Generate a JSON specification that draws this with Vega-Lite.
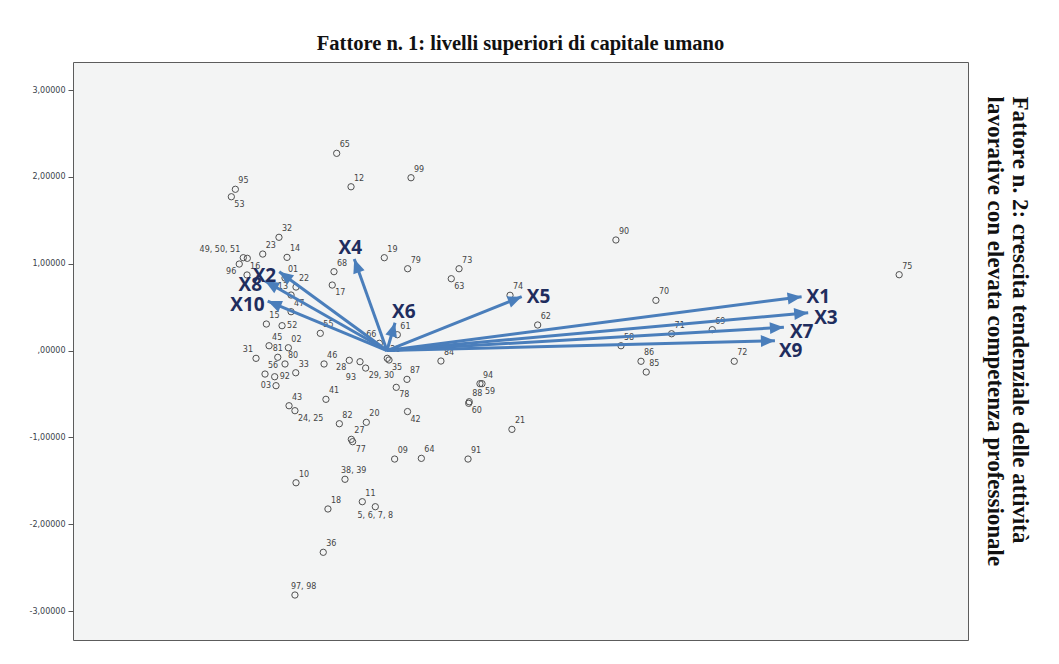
{
  "$schema": "https://vega.github.io/schema/vega-lite/v6.json",
  "width": 895,
  "height": 578,
  "autosize": {"type": "none"},
  "padding": {"left": 73, "top": 62, "right": 91, "bottom": 24},
  "background": "white",
  "title": {"text": "Fattore n. 1: livelli superiori di capitale umano", "font": "Liberation Serif", "fontSize": 20.5, "fontWeight": "bold", "color": "#111111", "offset": 8, "anchor": "middle"},
  "config": {
    "view": {"fill": "#f3f4f4", "stroke": "#5c5c5c", "strokeWidth": 1},
    "axis": {"labelFont": "DejaVu Sans", "labelFontSize": 8, "labelColor": "#3a3f4a", "tickColor": "#555555", "tickSize": 5, "domain": false, "grid": false, "labelPadding": 3}
  },
  "resolve": {"axis": {"y": "independent"}},
  "datasets": {
    "pts": [
      {"x": -0.375, "y": 2.271, "label": "65"},
      {"x": -0.268, "y": 1.886, "label": "12"},
      {"x": 0.179, "y": 1.990, "label": "99"},
      {"x": -1.130, "y": 1.857, "label": "95"},
      {"x": -1.160, "y": 1.771, "label": "53"},
      {"x": -0.805, "y": 1.304, "label": "32"},
      {"x": -0.926, "y": 1.111, "label": "23"},
      {"x": -1.071, "y": 1.069, "label": "49, 50, 51"},
      {"x": -1.041, "y": 1.062, "label": "-"},
      {"x": -1.101, "y": 0.996, "label": "96"},
      {"x": -0.745, "y": 1.073, "label": "14"},
      {"x": -1.043, "y": 0.870, "label": "16"},
      {"x": -0.760, "y": 0.835, "label": "01"},
      {"x": -0.678, "y": 0.731, "label": "22"},
      {"x": -0.715, "y": 0.639, "label": "13"},
      {"x": -0.715, "y": 0.447, "label": "47"},
      {"x": -0.408, "y": 0.754, "label": "17"},
      {"x": -0.395, "y": 0.908, "label": "68"},
      {"x": -0.020, "y": 1.069, "label": "19"},
      {"x": 0.154, "y": 0.942, "label": "79"},
      {"x": 0.537, "y": 0.942, "label": "73"},
      {"x": 0.479, "y": 0.827, "label": "63"},
      {"x": 0.917, "y": 0.636, "label": "74"},
      {"x": 1.123, "y": 0.294, "label": "62"},
      {"x": 0.077, "y": 0.182, "label": "61"},
      {"x": -0.899, "y": 0.305, "label": "15"},
      {"x": -0.782, "y": 0.286, "label": "52"},
      {"x": -0.497, "y": 0.198, "label": "55"},
      {"x": -0.879, "y": 0.055, "label": "45"},
      {"x": -0.735, "y": 0.032, "label": "02"},
      {"x": -0.057, "y": 0.083, "label": "66"},
      {"x": -0.976, "y": -0.090, "label": "31"},
      {"x": -0.814, "y": -0.078, "label": "81"},
      {"x": -0.760, "y": -0.155, "label": "80"},
      {"x": -0.909, "y": -0.271, "label": "56"},
      {"x": -0.837, "y": -0.302, "label": "92"},
      {"x": -0.827, "y": -0.405, "label": "03"},
      {"x": -0.680, "y": -0.256, "label": "33"},
      {"x": -0.469, "y": -0.155, "label": "46"},
      {"x": -0.281, "y": -0.113, "label": "28"},
      {"x": -0.201, "y": -0.129, "label": "93"},
      {"x": -0.159, "y": -0.202, "label": "29, 30"},
      {"x": 0.002, "y": -0.090, "label": "26"},
      {"x": 0.015, "y": -0.109, "label": "35"},
      {"x": 0.402, "y": -0.121, "label": "84"},
      {"x": 0.149, "y": -0.332, "label": "87"},
      {"x": 0.069, "y": -0.424, "label": "78"},
      {"x": 0.153, "y": -0.703, "label": "42"},
      {"x": -0.455, "y": -0.562, "label": "41"},
      {"x": -0.730, "y": -0.636, "label": "43"},
      {"x": -0.686, "y": -0.693, "label": "24, 25"},
      {"x": -0.355, "y": -0.843, "label": "82"},
      {"x": -0.154, "y": -0.827, "label": "20"},
      {"x": -0.266, "y": -1.023, "label": "27"},
      {"x": -0.256, "y": -1.050, "label": "77"},
      {"x": 0.057, "y": -1.250, "label": "09"},
      {"x": 0.256, "y": -1.242, "label": "64"},
      {"x": -0.678, "y": -1.523, "label": "10"},
      {"x": -0.313, "y": -1.483, "label": "38, 39"},
      {"x": -0.184, "y": -1.741, "label": "11"},
      {"x": -0.440, "y": -1.825, "label": "18"},
      {"x": -0.087, "y": -1.799, "label": "5, 6, 7, 8"},
      {"x": -0.475, "y": -2.324, "label": "36"},
      {"x": -0.686, "y": -2.816, "label": "97, 98"},
      {"x": 0.693, "y": -0.382, "label": "94"},
      {"x": 0.708, "y": -0.382, "label": "59"},
      {"x": 0.613, "y": -0.590, "label": "88"},
      {"x": 0.609, "y": -0.608, "label": "60"},
      {"x": 0.931, "y": -0.908, "label": "21"},
      {"x": 0.604, "y": -1.250, "label": "91"},
      {"x": 1.706, "y": 1.273, "label": "90"},
      {"x": 3.817, "y": 0.873, "label": "75"},
      {"x": 2.004, "y": 0.578, "label": "70"},
      {"x": 2.121, "y": 0.193, "label": "71"},
      {"x": 2.424, "y": 0.240, "label": "69"},
      {"x": 1.744, "y": 0.055, "label": "58"},
      {"x": 1.893, "y": -0.124, "label": "86"},
      {"x": 1.932, "y": -0.248, "label": "85"},
      {"x": 2.588, "y": -0.124, "label": "72"}
    ],
    "arr": [
      {"x": 3.090, "y": 0.620, "var": "X1"},
      {"x": 3.139, "y": 0.435, "var": "X3"},
      {"x": 2.958, "y": 0.267, "var": "X7"},
      {"x": 2.891, "y": 0.113, "var": "X9"},
      {"x": 1.004, "y": 0.620, "var": "X5"},
      {"x": 0.060, "y": 0.320, "var": "X6"},
      {"x": -0.244, "y": 1.054, "var": "X4"},
      {"x": -0.803, "y": 0.908, "var": "X2"},
      {"x": -0.909, "y": 0.800, "var": "X8"},
      {"x": -0.889, "y": 0.570, "var": "X10"}
    ]
  },
  "layer": [
    {
      "mark": {"type": "rule", "color": "#f19a9a", "strokeWidth": 1},
      "encoding": {
        "x": {"datum": 0, "type": "quantitative", "scale": {"domain": [-2.34, 4.33], "nice": false, "zero": false}, "axis": null}
      }
    },
    {
      "mark": {"type": "rule", "color": "#f19a9a", "strokeWidth": 1},
      "encoding": {
        "y": {"datum": 0, "type": "quantitative", "scale": {"domain": [-3.334, 3.323], "nice": false, "zero": false},
          "axis": {"orient": "right", "labels": false, "ticks": false, "domain": false, "grid": false,
            "title": ["Fattore n. 2: crescita tendenziale delle attività", "lavorative con elevata competenza professionale"],
            "titleFont": "Liberation Serif", "titleFontSize": 23, "titleFontWeight": "bold", "titleColor": "#111111",
            "titleAngle": 90, "titleAlign": "left", "titleBaseline": "alphabetic", "titleX": 44, "titleY": 34, "titleLineHeight": 24.5}}
      }
    },
    {
      "data": {"name": "pts"},
      "mark": {"type": "point", "shape": "circle", "filled": false, "stroke": "#505050", "strokeWidth": 1, "size": 40, "opacity": 1},
      "encoding": {
        "x": {"field": "x", "type": "quantitative", "scale": {"domain": [-2.34, 4.33], "nice": false, "zero": false},
          "axis": {"orient": "bottom", "values": [-2, -1, 0, 1, 2, 3, 4], "title": null,
            "labelExpr": "datum.value == 0 ? ',00000' : replace(replace(format(datum.value, '.5f'), '.', ','), '\u2212', '-')"}},
        "y": {"field": "y", "type": "quantitative", "scale": {"domain": [-3.334, 3.323], "nice": false, "zero": false},
          "axis": {"orient": "left", "values": [-3, -2, -1, 0, 1, 2, 3], "title": null,
            "labelExpr": "datum.value == 0 ? ',00000' : replace(replace(format(datum.value, '.5f'), '.', ','), '\u2212', '-')"}}
      }
    },
    {
      "data": {"name": "pts"},
      "transform": [{"filter": {"not": {"field": "label", "oneOf": ["-", "53", "17", "63", "29, 30", "35", "78", "42", "24, 25", "77", "59", "60", "66", "31", "49, 50, 51", "13", "96", "28", "93", "52", "92", "03", "5, 6, 7, 8", "38, 39", "97, 98", "81"]}}}],
      "mark": {"type": "text", "align": "left", "baseline": "middle", "dx": 3, "dy": -8, "font": "DejaVu Sans", "fontSize": 8, "color": "#444444"},
      "encoding": {
        "x": {"field": "x", "type": "quantitative", "scale": {"domain": [-2.34, 4.33], "nice": false, "zero": false}},
        "y": {"field": "y", "type": "quantitative", "scale": {"domain": [-3.334, 3.323], "nice": false, "zero": false}, "axis": null},
        "text": {"field": "label"}
      }
    },
    {
      "data": {"name": "pts"},
      "transform": [{"filter": {"field": "label", "oneOf": ["53", "17", "63", "29, 30", "35", "78", "42", "24, 25", "77", "59", "60"]}}],
      "mark": {"type": "text", "align": "left", "baseline": "middle", "dx": 3, "dy": 8, "font": "DejaVu Sans", "fontSize": 8, "color": "#444444"},
      "encoding": {
        "x": {"field": "x", "type": "quantitative", "scale": {"domain": [-2.34, 4.33], "nice": false, "zero": false}},
        "y": {"field": "y", "type": "quantitative", "scale": {"domain": [-3.334, 3.323], "nice": false, "zero": false}, "axis": null},
        "text": {"field": "label"}
      }
    },
    {
      "data": {"name": "pts"},
      "transform": [{"filter": {"field": "label", "oneOf": ["66", "31", "49, 50, 51", "13"]}}],
      "mark": {"type": "text", "align": "right", "baseline": "middle", "dx": -3, "dy": -8, "font": "DejaVu Sans", "fontSize": 8, "color": "#444444"},
      "encoding": {
        "x": {"field": "x", "type": "quantitative", "scale": {"domain": [-2.34, 4.33], "nice": false, "zero": false}},
        "y": {"field": "y", "type": "quantitative", "scale": {"domain": [-3.334, 3.323], "nice": false, "zero": false}, "axis": null},
        "text": {"field": "label"}
      }
    },
    {
      "data": {"name": "pts"},
      "transform": [{"filter": {"field": "label", "oneOf": ["96", "28"]}}],
      "mark": {"type": "text", "align": "right", "baseline": "middle", "dx": -3, "dy": 8, "font": "DejaVu Sans", "fontSize": 8, "color": "#444444"},
      "encoding": {
        "x": {"field": "x", "type": "quantitative", "scale": {"domain": [-2.34, 4.33], "nice": false, "zero": false}},
        "y": {"field": "y", "type": "quantitative", "scale": {"domain": [-3.334, 3.323], "nice": false, "zero": false}, "axis": null},
        "text": {"field": "label"}
      }
    },
    {
      "data": {"name": "pts"},
      "transform": [{"filter": {"field": "label", "oneOf": ["93"]}}],
      "mark": {"type": "text", "align": "right", "baseline": "middle", "dx": -4, "dy": 16, "font": "DejaVu Sans", "fontSize": 8, "color": "#444444"},
      "encoding": {
        "x": {"field": "x", "type": "quantitative", "scale": {"domain": [-2.34, 4.33], "nice": false, "zero": false}},
        "y": {"field": "y", "type": "quantitative", "scale": {"domain": [-3.334, 3.323], "nice": false, "zero": false}, "axis": null},
        "text": {"field": "label"}
      }
    },
    {
      "data": {"name": "pts"},
      "transform": [{"filter": {"field": "label", "oneOf": ["52", "92"]}}],
      "mark": {"type": "text", "align": "left", "baseline": "middle", "dx": 5, "dy": 0, "font": "DejaVu Sans", "fontSize": 8, "color": "#444444"},
      "encoding": {
        "x": {"field": "x", "type": "quantitative", "scale": {"domain": [-2.34, 4.33], "nice": false, "zero": false}},
        "y": {"field": "y", "type": "quantitative", "scale": {"domain": [-3.334, 3.323], "nice": false, "zero": false}, "axis": null},
        "text": {"field": "label"}
      }
    },
    {
      "data": {"name": "pts"},
      "transform": [{"filter": {"field": "label", "oneOf": ["03"]}}],
      "mark": {"type": "text", "align": "right", "baseline": "middle", "dx": -5, "dy": 0, "font": "DejaVu Sans", "fontSize": 8, "color": "#444444"},
      "encoding": {
        "x": {"field": "x", "type": "quantitative", "scale": {"domain": [-2.34, 4.33], "nice": false, "zero": false}},
        "y": {"field": "y", "type": "quantitative", "scale": {"domain": [-3.334, 3.323], "nice": false, "zero": false}, "axis": null},
        "text": {"field": "label"}
      }
    },
    {
      "data": {"name": "pts"},
      "transform": [{"filter": {"field": "label", "oneOf": ["5, 6, 7, 8"]}}],
      "mark": {"type": "text", "align": "center", "baseline": "middle", "dx": 0, "dy": 9, "font": "DejaVu Sans", "fontSize": 8, "color": "#444444"},
      "encoding": {
        "x": {"field": "x", "type": "quantitative", "scale": {"domain": [-2.34, 4.33], "nice": false, "zero": false}},
        "y": {"field": "y", "type": "quantitative", "scale": {"domain": [-3.334, 3.323], "nice": false, "zero": false}, "axis": null},
        "text": {"field": "label"}
      }
    },
    {
      "data": {"name": "pts"},
      "transform": [{"filter": {"field": "label", "oneOf": ["38, 39", "97, 98"]}}],
      "mark": {"type": "text", "align": "left", "baseline": "middle", "dx": -4, "dy": -8, "font": "DejaVu Sans", "fontSize": 8, "color": "#444444"},
      "encoding": {
        "x": {"field": "x", "type": "quantitative", "scale": {"domain": [-2.34, 4.33], "nice": false, "zero": false}},
        "y": {"field": "y", "type": "quantitative", "scale": {"domain": [-3.334, 3.323], "nice": false, "zero": false}, "axis": null},
        "text": {"field": "label"}
      }
    },
    {
      "data": {"name": "pts"},
      "transform": [{"filter": {"field": "label", "oneOf": ["81"]}}],
      "mark": {"type": "text", "align": "center", "baseline": "middle", "dx": 0, "dy": -8, "font": "DejaVu Sans", "fontSize": 8, "color": "#444444"},
      "encoding": {
        "x": {"field": "x", "type": "quantitative", "scale": {"domain": [-2.34, 4.33], "nice": false, "zero": false}},
        "y": {"field": "y", "type": "quantitative", "scale": {"domain": [-3.334, 3.323], "nice": false, "zero": false}, "axis": null},
        "text": {"field": "label"}
      }
    },
    {
      "data": {"name": "arr"},
      "mark": {"type": "rule", "color": "#4a7ebb", "strokeWidth": 3},
      "encoding": {
        "x": {"field": "x", "type": "quantitative", "scale": {"domain": [-2.34, 4.33], "nice": false, "zero": false}},
        "y": {"field": "y", "type": "quantitative", "scale": {"domain": [-3.334, 3.323], "nice": false, "zero": false}, "axis": null},
        "x2": {"datum": 0},
        "y2": {"datum": 0}
      }
    },
    {
      "data": {"name": "arr"},
      "transform": [{"calculate": "atan2(datum.x * 134.2, datum.y * 86.83) * 180 / PI", "as": "ang"}],
      "mark": {"type": "point", "shape": "M0,0L0.85,2L-0.85,2Z", "filled": true, "color": "#4a7ebb", "size": 196, "opacity": 1},
      "encoding": {
        "x": {"field": "x", "type": "quantitative", "scale": {"domain": [-2.34, 4.33], "nice": false, "zero": false}},
        "y": {"field": "y", "type": "quantitative", "scale": {"domain": [-3.334, 3.323], "nice": false, "zero": false}, "axis": null},
        "angle": {"field": "ang", "type": "quantitative", "scale": null}
      }
    },
    {
      "data": {"name": "arr"},
      "transform": [{"filter": {"field": "var", "oneOf": ["X1", "X5"]}}],
      "mark": {"type": "text", "align": "left", "baseline": "middle", "dx": 5, "dy": 0, "font": "Open Sans", "fontWeight": "bold", "fontSize": 19, "color": "#1f2d5e"},
      "encoding": {
        "x": {"field": "x", "type": "quantitative", "scale": {"domain": [-2.34, 4.33], "nice": false, "zero": false}},
        "y": {"field": "y", "type": "quantitative", "scale": {"domain": [-3.334, 3.323], "nice": false, "zero": false}, "axis": null},
        "text": {"field": "var"}
      }
    },
    {
      "data": {"name": "arr"},
      "transform": [{"filter": {"field": "var", "oneOf": ["X3", "X7"]}}],
      "mark": {"type": "text", "align": "left", "baseline": "middle", "dx": 6, "dy": 5, "font": "Open Sans", "fontWeight": "bold", "fontSize": 19, "color": "#1f2d5e"},
      "encoding": {
        "x": {"field": "x", "type": "quantitative", "scale": {"domain": [-2.34, 4.33], "nice": false, "zero": false}},
        "y": {"field": "y", "type": "quantitative", "scale": {"domain": [-3.334, 3.323], "nice": false, "zero": false}, "axis": null},
        "text": {"field": "var"}
      }
    },
    {
      "data": {"name": "arr"},
      "transform": [{"filter": {"field": "var", "oneOf": ["X9"]}}],
      "mark": {"type": "text", "align": "left", "baseline": "middle", "dx": 4, "dy": 10, "font": "Open Sans", "fontWeight": "bold", "fontSize": 19, "color": "#1f2d5e"},
      "encoding": {
        "x": {"field": "x", "type": "quantitative", "scale": {"domain": [-2.34, 4.33], "nice": false, "zero": false}},
        "y": {"field": "y", "type": "quantitative", "scale": {"domain": [-3.334, 3.323], "nice": false, "zero": false}, "axis": null},
        "text": {"field": "var"}
      }
    },
    {
      "data": {"name": "arr"},
      "transform": [{"filter": {"field": "var", "oneOf": ["X4"]}}],
      "mark": {"type": "text", "align": "center", "baseline": "middle", "dx": -4, "dy": -11, "font": "Open Sans", "fontWeight": "bold", "fontSize": 19, "color": "#1f2d5e"},
      "encoding": {
        "x": {"field": "x", "type": "quantitative", "scale": {"domain": [-2.34, 4.33], "nice": false, "zero": false}},
        "y": {"field": "y", "type": "quantitative", "scale": {"domain": [-3.334, 3.323], "nice": false, "zero": false}, "axis": null},
        "text": {"field": "var"}
      }
    },
    {
      "data": {"name": "arr"},
      "transform": [{"filter": {"field": "var", "oneOf": ["X6"]}}],
      "mark": {"type": "text", "align": "left", "baseline": "middle", "dx": -3, "dy": -11, "font": "Open Sans", "fontWeight": "bold", "fontSize": 19, "color": "#1f2d5e"},
      "encoding": {
        "x": {"field": "x", "type": "quantitative", "scale": {"domain": [-2.34, 4.33], "nice": false, "zero": false}},
        "y": {"field": "y", "type": "quantitative", "scale": {"domain": [-3.334, 3.323], "nice": false, "zero": false}, "axis": null},
        "text": {"field": "var"}
      }
    },
    {
      "data": {"name": "arr"},
      "transform": [{"filter": {"field": "var", "oneOf": ["X2", "X8", "X10"]}}],
      "mark": {"type": "text", "align": "right", "baseline": "middle", "dx": -3, "dy": 4, "font": "Open Sans", "fontWeight": "bold", "fontSize": 19, "color": "#1f2d5e"},
      "encoding": {
        "x": {"field": "x", "type": "quantitative", "scale": {"domain": [-2.34, 4.33], "nice": false, "zero": false}},
        "y": {"field": "y", "type": "quantitative", "scale": {"domain": [-3.334, 3.323], "nice": false, "zero": false}, "axis": null},
        "text": {"field": "var"}
      }
    }
  ]
}
